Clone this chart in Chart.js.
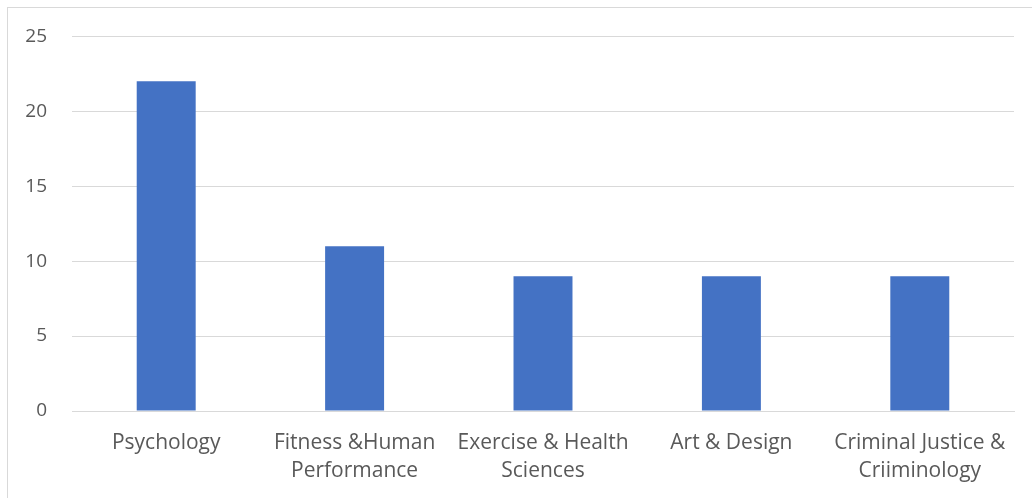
<!DOCTYPE html>
<html>
<head>
<meta charset="utf-8">
<script src="https://cdn.jsdelivr.net/npm/chart.js@4"></script>
<style>
  html, body { margin: 0; padding: 0; background: #fff; }
  #wrap { position: relative; width: 1032px; height: 498px; overflow: hidden; }
  #frame { position: absolute; left: 7px; top: 7px; width: 1040px; height: 500px; border: 1px solid #d9d9d9; }
  canvas { position: absolute; left: 0; top: 0; }
</style>
</head>
<body>
<div id="wrap">
  <div id="frame"></div>
  <canvas id="chart" width="1032" height="498"></canvas>
</div>
<script>
const categories = [
  'Psychology',
  ['Fitness &Human', 'Performance'],
  ['Exercise & Health', 'Sciences'],
  'Art & Design',
  ['Criminal Justice &', 'Criiminology']
];
const counts = [22, 11, 9, 9, 9];
const yTicks = [0, 5, 10, 15, 20, 25];

const textColor = '#595959';
const gridColor = '#d9d9d9';

new Chart(document.getElementById('chart'), {
  type: 'bar',
  data: {
    labels: categories,
    datasets: [{
      data: counts,
      backgroundColor: '#4472c4',
      borderWidth: 0,
      categoryPercentage: 1,
      barPercentage: 0.313
    }]
  },
  options: {
    responsive: false,
    animation: false,
    layout: { padding: { left: 0, top: 36, right: 18, bottom: 0 } },
    plugins: { legend: { display: false }, tooltip: { enabled: false } },
    scales: {
      x: {
        grid: { display: false, drawTicks: false },
        border: { display: true, color: gridColor, width: 1 },
        ticks: {
          color: textColor,
          padding: 18,
          maxRotation: 0,
          autoSkip: false,
          font: { family: 'Open Sans', size: 21, lineHeight: 1.33 }
        },
        afterFit: s => { s.height = 87; }
      },
      y: {
        min: 0,
        max: 25,
        afterBuildTicks: s => { s.ticks = yTicks.map(v => ({ value: v })); },
        grid: { color: gridColor, lineWidth: 1, drawTicks: false },
        border: { display: false },
        ticks: {
          color: textColor,
          padding: 25,
          font: { family: 'Open Sans', size: 19 }
        },
        afterFit: s => { s.width = 72; }
      }
    }
  }
});
</script>
</body>
</html>
